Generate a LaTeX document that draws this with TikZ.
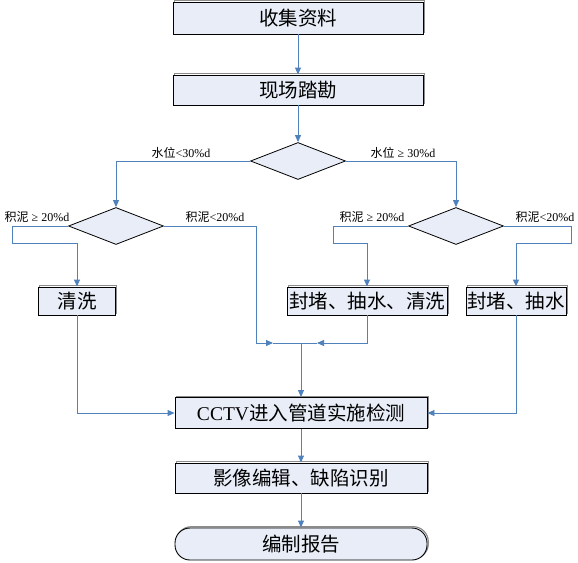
\documentclass[tikz,border=0pt]{standalone}
\usepackage{fontspec}
\setmainfont{Liberation Serif}
\newfontfamily\cjk{Noto Sans CJK SC}
\usetikzlibrary{shapes.geometric,arrows.meta}
\definecolor{boxfill}{HTML}{E8EDF7}
\definecolor{lineblue}{HTML}{4F81BD}
\definecolor{shadowgray}{HTML}{8C8C8C}
\tikzset{
  procbox/.style={draw=black,line width=0.9pt,fill=boxfill,rectangle,inner sep=0pt,
    font=\fontsize{19.5}{22}\selectfont\cjk,
    preaction={draw=shadowgray,line width=1.2pt,transform canvas={xshift=1.3pt,yshift=1.3pt}}},
  endbox/.style={procbox,rounded corners=15pt},
  decbox/.style={draw=black,line width=0.8pt,fill=boxfill,diamond,inner sep=0pt,
    minimum width=95pt,minimum height=37pt},
  conn/.style={draw=lineblue,line width=0.9pt},
  arr/.style={conn,-{Triangle[length=7pt,width=6pt]}},
  lbl/.style={font=\fontsize{12}{14}\selectfont,inner sep=0pt,anchor=base}
}
\begin{document}
\begin{tikzpicture}[x=1pt,y=-1pt]
\useasboundingbox (0,0) rectangle (578,562);
% process boxes
\node[procbox,minimum width=250pt,minimum height=32pt] (a) at (298,18) {收集资料};
\node[procbox,minimum width=250pt,minimum height=30pt] (b) at (298,90) {现场踏勘};
\node[decbox] (d1) at (298,161) {};
\node[decbox] (d2) at (116,226) {};
\node[decbox] (d3) at (456,226) {};
\node[procbox,minimum width=77pt,minimum height=28pt] (c1) at (77,301) {清洗};
\node[procbox,minimum width=160pt,minimum height=28pt] (c2) at (367,301) {封堵、抽水、清洗};
\node[procbox,minimum width=100pt,minimum height=28pt] (c3) at (516,301) {封堵、抽水};
\node[procbox,minimum width=252pt,minimum height=31pt] (cc) at (301,413)
  {{\rmfamily CCTV}进入管道实施检测};
\node[procbox,minimum width=252pt,minimum height=30pt] (im) at (301,478) {影像编辑、缺陷识别};
\node[endbox,minimum width=252pt,minimum height=32pt] (rp) at (301,544) {编制报告};
% helper coordinates
\coordinate (j) at (301,343);
\coordinate (jl) at (273,343);
\coordinate (jr) at (317,343);
% connectors
\draw[arr] (a) -- (b);
\draw[arr] (b.south) -- (d1.north);
\draw[arr] (d1.west) -| (d2.north);
\draw[arr] (d1.east) -| (d3.north);
\draw[arr] (d2.west) -- (12,226) -- (12,243) -| (c1.north);
\draw[arr] (d2.east) -- (256,226) -- (256,343) -- (jl);
\draw[conn] (jl) -- (j);
\draw[arr] (d3.west) -- (333,226) -- (333,243) -| (c2.north);
\draw[arr] (d3.east) -- (571,226) -- (571,243) -| (c3.north);
\draw[arr] (c1.south) |- (cc.west);
\draw[arr] (c3.south) |- (cc.east);
\draw[arr] (c2.south) |- (jr);
\draw[conn] (jr) -- (j);
\draw[arr] (j) -- (cc.north);
\draw[arr] (cc) -- (im);
\draw[arr] (im) -- (rp);
% labels
\node[lbl] at (181,157) {{\cjk 水位}<30\%d};
\node[lbl] at (403,157) {{\cjk 水位} ≥ 30\%d};
\node[lbl] at (37,221) {{\cjk 积泥} ≥ 20\%d};
\node[lbl] at (215,221) {{\cjk 积泥}<20\%d};
\node[lbl] at (372,221) {{\cjk 积泥} ≥ 20\%d};
\node[lbl] at (545,221) {{\cjk 积泥}<20\%d};
\end{tikzpicture}
\end{document}
